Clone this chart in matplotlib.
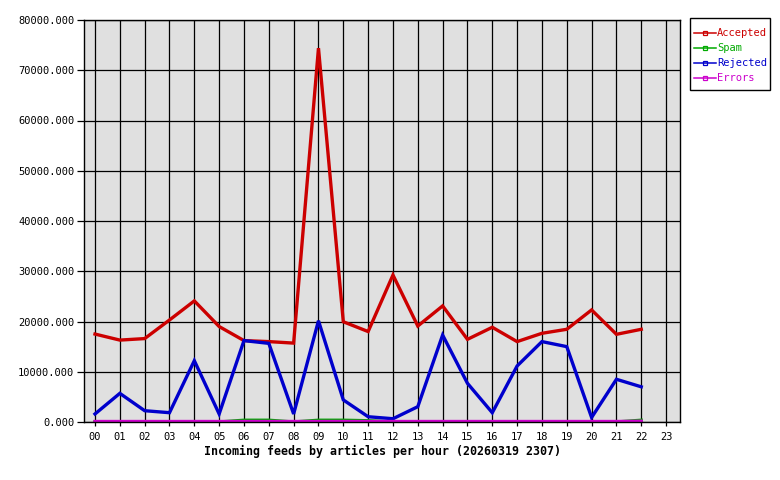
import numpy as np
import matplotlib
matplotlib.use("Agg")
import matplotlib.pyplot as plt
from matplotlib.lines import Line2D
from matplotlib.patches import Rectangle

hours = ["00", "01", "02", "03", "04", "05", "06", "07", "08", "09", "10", "11",
         "12", "13", "14", "15", "16", "17", "18", "19", "20", "21", "22"]
all_hours = [f"{h:02d}" for h in range(24)]

accepted = [17500, 16300, 16600, 20300, 24100, 19000, 16200, 16000, 15700, 74400, 19950, 18000,
            29250, 19100, 23100, 16450, 18850, 16000, 17650, 18450, 22300, 17450, 18450]
spam = [0, 0, 0, 0, 0, 0, 350, 350, 0, 350, 350, 250,
        0, 0, 0, 0, 0, 0, 0, 0, 0, 0, 350]
rejected = [1600, 5700, 2250, 1850, 12200, 1600, 16200, 15650, 1600, 20150, 4400, 1050,
            650, 3050, 17300, 7700, 1850, 11150, 16000, 15000, 900, 8500, 7000]
errors = [100, 100, 100, 100, 100, 100, 100, 100, 100, 100, 100, 100,
          100, 100, 100, 100, 100, 100, 100, 100, 100, 100, 150]

series = [("Accepted", accepted, "#cc0000"),
          ("Spam", spam, "#00aa00"),
          ("Rejected", rejected, "#0000cc"),
          ("Errors", errors, "#cc00cc")]

plt.rcParams["font.family"] = ["DejaVu Sans Mono"]
W, H = 780, 480
fig = plt.figure(figsize=(7.8, 4.8), dpi=100)
ax = fig.add_axes([84 / W, 58 / H, 596 / W, 402 / H])
ax.set_facecolor("#e0e0e0")

x = np.arange(len(hours))
for name, vals, col in series:
    ax.plot(x, vals, color=col, lw=2.4, solid_joinstyle="miter")

ax.set_xlim(-0.443, 23.56)
ax.set_ylim(0, 80000)
ax.set_xticks(range(24))
ax.set_xticklabels(all_hours, fontsize=7.5)
ax.set_yticks(range(0, 80001, 10000))
ax.set_yticklabels([f"{v}.000" for v in range(0, 80001, 10000)], fontsize=7.5)
ax.grid(True, color="black", lw=0.9)
ax.set_axisbelow(True)
ax.tick_params(axis="y", direction="out", length=5, width=0.9, color="black", pad=2)
ax.tick_params(axis="x", direction="out", length=3, width=0.9, color="black", pad=4)
for s in ax.spines.values():
    s.set_color("black")
    s.set_linewidth(1.0)
ax.set_xlabel("Incoming feeds by articles per hour (20260319 2307)",
              fontsize=8.4, fontweight="bold", labelpad=2.5)

# legend box drawn by hand, in figure pixels from the top-left
def fx(px): return px / W
def fy(py): return 1 - py / H

fig.patches.append(Rectangle((fx(690), fy(90)), fx(770) - fx(690), fy(18) - fy(90),
                             transform=fig.transFigure, facecolor="white",
                             edgecolor="black", lw=1.0))
for i, (name, _, col) in enumerate(series):
    yy = fy(33 + 15 * i)
    fig.add_artist(Line2D([fx(694), fx(716)], [yy, yy], color=col, lw=1.1,
                          transform=fig.transFigure))
    fig.add_artist(Line2D([fx(705)], [yy], color=col, marker="s", ms=3, mfc="none",
                          mec=col, mew=0.9, transform=fig.transFigure))
    fig.text(fx(717), yy, name, color=col, fontsize=7.5, va="center", ha="left")

fig.savefig("out.png", dpi=100)
